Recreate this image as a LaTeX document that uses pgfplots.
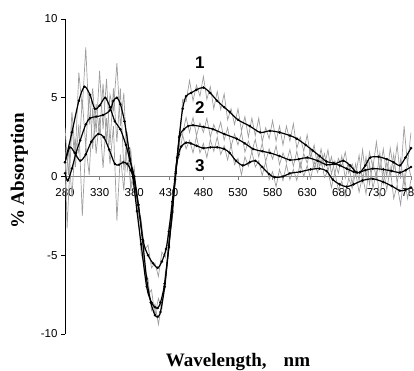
\documentclass[border=0pt]{standalone}
\usepackage{pgfplots}
\pgfplotsset{compat=1.18}
\usepackage{fontspec}
\setmainfont{Liberation Serif}
\newfontfamily\arial{Liberation Sans}
\definecolor{noisegray}{RGB}{158,158,158}
\begin{document}
\begin{tikzpicture}
\begin{axis}[
  scale only axis, width=346pt, height=315pt,
  xmin=280, xmax=780, ymin=-10, ymax=10,
  axis x line=middle, axis y line=left,
  hide obscured x ticks=false,
  x axis line style={-, draw=gray, line width=0.8pt},
  y axis line style={-, draw=black, line width=0.8pt},
  xtick={280,330,...,780},
  xticklabels={280,330,380,430,480,530,580,630,680,730,780},
  ytick={-10,-5,0,5,10},
  yticklabels={-10,-5,0,5,10},
  tick align=outside,
  major tick length=4pt,
  x tick style={draw=gray, line width=0.6pt},
  y tick style={draw=black, line width=0.6pt},
  tick label style={font=\arial\fontsize{11.5}{12}\selectfont},
  xticklabel style={yshift=-4pt},
  /pgf/number format/assume math mode=true,
  clip=true,
]
% raw (noisy) spectra
\addplot[noisegray, line width=0.7pt] coordinates {
(280,3.1)(285,0.1)(290,4.1)(295,1.4)(300,6.6)(305,4.3)(310,8.2)(315,3.3)(320,5.6)(325,2.8)
(330,6.7)(335,3.0)(340,6.2)(345,2.0)(350,5.6)(355,2.2)(360,5.6)(365,0.4)(370,2.6)(375,-0.7)
(380,0.6)(385,-2.0)(390,-2.9)(395,-5.9)(400,-6.5)(405,-8.5)(410,-8.1)(415,-9.4)(420,-8.0)(425,-7.0)
(430,-3.9)(435,-2.8)(440,0.6)(445,1.7)(450,4.9)(455,4.75)(460,6.1)(465,4.8)(470,5.8)(475,5.1)
(480,6.35)(485,4.9)(490,5.7)(495,4.3)(500,5.4)(505,4.25)(510,5.25)(515,3.6)(520,4.3)(525,3.3)
(530,4.3)(535,2.9)(540,3.8)(545,2.5)(550,3.7)(555,2.6)(560,3.7)(565,2.2)(570,3.1)(575,2.4)
(580,3.55)(585,2.25)(590,3.2)(595,2.0)(600,3.2)(605,2.25)(610,3.35)(615,1.8)(620,2.5)(625,1.6)
(630,2.65)(635,1.2)(640,2.0)(645,0.6)(650,1.75)(655,0.65)(660,1.7)(665,0.15)(670,1.0)(675,0.2)
(680,1.3)(685,-0.1)(690,0.8)(695,-0.5)(700,0.8)(705,-0.25)(710,1.7)(715,-0.1)(720,1.55)(725,0.55)
(730,2.2)(735,0.4)(740,1.75)(745,0.0)(750,1.8)(755,0.4)(760,2.0)(765,-0.15)(770,3.2)(775,0.75)(780,2.8)};
\addplot[noisegray, line width=0.7pt] coordinates {
(280,-1.0)(285,1.8)(290,-1.3)(295,2.3)(300,1.5)(305,4.9)(310,1.9)(315,5.25)(320,1.75)(325,4.6)
(330,2.65)(335,5.9)(340,2.2)(345,5.2)(350,4.2)(355,7.2)(360,3.2)(365,5.3)(370,0.4)(375,1.7)
(380,-1.1)(385,-1.8)(390,-4.9)(395,-5.65)(400,-7.5)(405,-7.2)(410,-8.8)(415,-7.75)(420,-8.4)(425,-6.1)
(430,-4.8)(435,-1.5)(440,-0.3)(445,2.6)(450,2.7)(455,3.75)(460,2.8)(465,3.75)(470,2.6)(475,3.4)
(480,2.8)(485,3.7)(490,2.5)(495,3.3)(500,2.7)(505,3.45)(510,2.3)(515,3.1)(520,1.9)(525,2.7)
(530,2.0)(535,2.8)(540,1.55)(545,2.25)(550,1.6)(555,2.35)(560,1.25)(565,2.1)(570,0.95)(575,1.75)
(580,1.1)(585,1.95)(590,0.75)(595,1.5)(600,0.9)(605,1.7)(610,0.65)(615,1.6)(620,0.55)(625,1.45)
(630,0.85)(635,1.75)(640,0.5)(645,1.3)(650,0.7)(655,1.45)(660,0.35)(665,1.25)(670,0.2)(675,1.15)
(680,0.65)(685,1.55)(690,0.2)(695,0.8)(700,0.1)(705,1.35)(710,-0.35)(715,1.25)(720,-0.5)(725,0.9)
(730,-0.1)(735,1.5)(740,-0.45)(745,0.9)(750,0.05)(755,1.4)(760,-0.45)(765,1.1)(770,-0.6)(775,0.9)(780,0.0)};
\addplot[noisegray, line width=0.7pt] coordinates {
(280,1.9)(283,-3.3)(290,3.3)(295,0.6)(300,3.3)(305,-2.5)(310,2.0)(315,0.1)(320,4.35)(325,1.45)
(330,3.7)(335,0.55)(340,3.7)(345,0.8)(350,3.2)(355,-2.8)(360,1.4)(365,-0.9)(370,2.8)(375,-0.8)
(380,0.0)(385,-2.1)(390,-2.7)(395,-4.65)(400,-4.35)(405,-5.8)(410,-5.5)(415,-6.35)(420,-4.8)(425,-5.15)
(430,-3.2)(435,-2.2)(440,0.8)(445,1.25)(450,2.65)(455,1.75)(460,2.3)(465,1.5)(470,2.55)(475,1.5)
(480,2.1)(485,1.2)(490,2.35)(495,1.6)(500,2.5)(505,1.4)(510,1.95)(515,1.05)(520,2.0)(525,0.75)
(530,1.15)(535,0.1)(540,1.25)(545,0.65)(550,1.6)(555,0.6)(560,1.0)(565,0.05)(570,0.95)(575,-0.2)
(580,0.3)(585,-0.65)(590,0.45)(595,-0.25)(600,0.75)(605,-0.2)(610,0.45)(615,-0.25)(620,0.9)(625,0.0)
(630,0.7)(635,-0.15)(640,0.95)(645,0.25)(650,1.1)(655,-0.05)(660,0.35)(665,-0.7)(670,0.25)(675,-0.85)
(680,-0.3)(685,-1.25)(690,-0.1)(695,-0.75)(700,0.25)(705,-1.0)(710,0.05)(715,-1.1)(720,0.85)(725,-0.75)
(730,0.3)(735,-1.3)(740,0.45)(745,-0.85)(750,0.55)(755,-1.4)(760,-0.55)(765,-1.8)(770,0.15)(775,-1.4)(780,-0.2)};
% smoothed spectra
\addplot[black, line width=1.2pt, smooth, mark=*, mark size=0.55pt] coordinates {
(280,0.9)(290,2.8)(300,4.8)(308,5.7)(316,5.2)(323,4.3)(330,4.5)(338,5.0)(345,4.4)(352,3.5)
(360,3.0)(368,2.0)(374,1.0)(380,0.0)(386,-1.8)(392,-4.0)(398,-6.5)(404,-8.0)(410,-8.8)(414,-8.9)
(418,-8.6)(424,-7.0)(430,-4.5)(435,-2.3)(440,0.2)(445,2.5)(450,4.3)(455,5.1)(462,5.3)(470,5.5)
(480,5.65)(490,5.3)(500,4.8)(510,4.4)(518,4.1)(530,3.6)(547,3.2)(562,2.8)(576,2.9)(590,2.8)
(605,2.6)(615,2.4)(628,2.0)(638,1.65)(648,1.3)(658,0.95)(668,0.85)(677,0.7)(687,0.5)(697,0.3)
(706,0.25)(714,0.7)(721,1.2)(733,1.25)(745,1.1)(755,0.9)(764,0.7)(772,1.2)(780,1.8)};
\addplot[black, line width=1.2pt, smooth, mark=*, mark size=0.55pt] coordinates {
(280,0.2)(284,-0.25)(290,0.5)(296,1.5)(302,2.3)(310,3.3)(316,3.7)(325,3.8)(335,3.9)(345,4.2)
(350,4.8)(355,5.0)(360,4.6)(366,3.5)(372,1.8)(378,0.0)(384,-2.2)(390,-4.3)(398,-7.0)(405,-8.0)
(410,-8.3)(414,-8.35)(418,-8.0)(424,-6.8)(430,-4.4)(435,-2.2)(439,-0.2)(442,1.2)(446,2.6)(452,3.0)
(458,3.2)(465,3.25)(480,3.15)(494,3.0)(510,2.7)(528,2.4)(540,2.1)(552,1.75)(565,1.6)(576,1.5)
(590,1.3)(605,1.05)(618,1.1)(630,1.2)(645,1.0)(658,0.75)(670,0.8)(682,1.0)(692,0.7)(702,0.25)
(714,0.4)(725,0.5)(740,0.45)(752,0.35)(764,0.25)(772,0.4)(780,0.6)};
\addplot[black, line width=1.2pt, smooth, mark=*, mark size=0.55pt] coordinates {
(280,0.9)(287,1.85)(294,1.5)(302,1.0)(310,1.4)(318,2.2)(328,2.7)(336,2.5)(344,1.7)(352,0.8)
(358,0.75)(364,0.9)(370,0.8)(375,0.4)(380,-0.3)(386,-1.8)(393,-4.1)(400,-5.0)(407,-5.5)(414,-5.8)
(420,-5.4)(426,-4.6)(430,-3.5)(435,-1.6)(440,0.3)(444,1.4)(448,1.9)(455,2.15)(462,2.1)(470,1.95)
(480,1.8)(490,1.85)(500,1.85)(510,1.75)(518,1.5)(527,1.0)(537,0.7)(547,0.9)(555,1.0)(565,0.6)
(575,0.15)(583,-0.05)(595,0.0)(605,0.2)(620,0.3)(635,0.45)(648,0.5)(658,0.35)(667,-0.2)(677,-0.5)
(687,-0.65)(697,-0.5)(710,-0.25)(725,-0.15)(740,-0.35)(752,-0.6)(764,-0.9)(772,-0.85)(780,-0.7)};
\node[font=\arial\bfseries\fontsize{17}{17}\selectfont] at (axis cs:475,7.2) {1};
\node[font=\arial\bfseries\fontsize{17}{17}\selectfont] at (axis cs:475,4.4) {2};
\node[font=\arial\bfseries\fontsize{17}{17}\selectfont] at (axis cs:475,0.7) {3};
\end{axis}
\node[anchor=base, font=\bfseries\fontsize{19}{19}\selectfont] at (173pt,-32.5pt) {Wavelength,\hspace{17pt}nm};
\node[anchor=base, rotate=90, font=\bfseries\fontsize{19}{19}\selectfont] at (-41pt,163pt) {\% Absorption};
\pgfresetboundingbox
\useasboundingbox (-65pt,-37pt) rectangle (349pt,334pt);
\end{tikzpicture}
\end{document}
